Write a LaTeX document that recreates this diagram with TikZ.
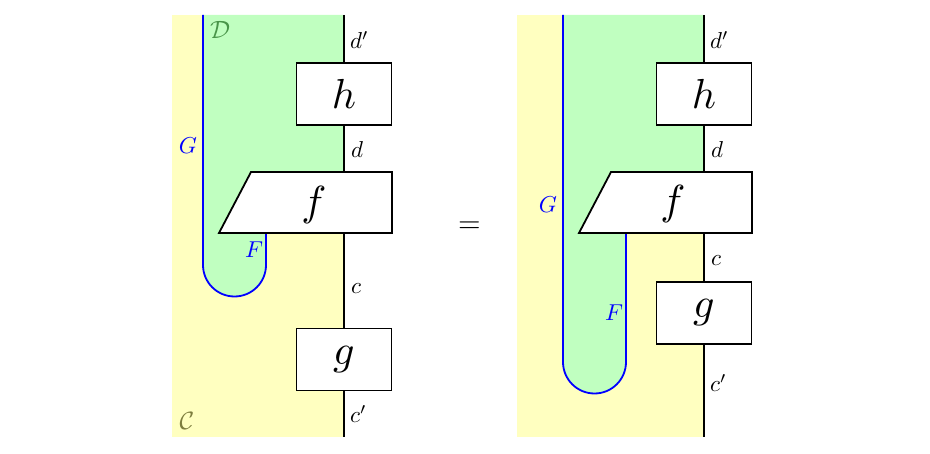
\documentclass[tikz,border=0pt]{standalone}
\usepackage{graphicx}
\definecolor{regY}{RGB}{255,255,192}
\definecolor{regG}{RGB}{192,255,192}
\definecolor{labD}{RGB}{72,148,72}
\definecolor{labC}{RGB}{125,125,62}
\newcommand\boxlab[1]{\scalebox{4.2}{$#1$}}
\newcommand\wlab[1]{\scalebox{2.3}{$#1$}}
\newcommand\clab[1]{\scalebox{2.5}{$#1$}}
\tikzset{
  wire/.style={line width=1.8pt,black},
  strand/.style={line width=1.8pt,blue},
  morph/.style={draw,line width=1.8pt,fill=white,minimum width=95pt,minimum height=62pt,inner sep=0pt},
  flab/.style={inner sep=0pt},
  lab/.style={inner sep=0pt},
  blab/.style={lab,text=blue}
}
\begin{document}
\begin{tikzpicture}[x=1pt,y=-1pt]
\useasboundingbox (0,0) rectangle (930,454);
% ---------- left diagram ----------
\fill[regY] (172,15) rectangle (344,437);
\fill[regG] (203,15) -- (344,15) -- (344,233) -- (266,233) -- (266,265)
  arc[start angle=0,end angle=180,radius=31.5] -- cycle;
\draw[strand] (203,15) -- (203,265) arc[start angle=180,end angle=0,radius=31.5] -- (266,233);
\coordinate (Ltop) at (344,15);
\coordinate (Lbot) at (344,437);
\coordinate (Lft) at (344,172);
\coordinate (Lfb) at (344,233);
\node[morph] (Lh) at (344,94) {\boxlab{h}};
\node[morph] (Lg) at (344,359.5) {\boxlab{g}};
\draw[wire] (Ltop) -- (Lh);
\draw[wire] (Lh) -- (Lft);
\draw[wire] (Lfb) -- (Lg);
\draw[wire] (Lg) -- (Lbot);
\draw[line width=1.8pt,fill=white,line join=miter] (251,172) -- (392,172) -- (392,233) -- (219,233) -- cycle;
\node[flab] (Lf) at (314,205) {\boxlab{f}};
\node[lab,anchor=west] (Ldp) at (350,40) {\wlab{d'}};
\node[lab,anchor=west] (Ld) at (351,150) {\wlab{d}};
\node[lab,anchor=west] (Lc) at (351,289) {\wlab{c}};
\node[lab,anchor=west] (Lcp) at (350,414) {\wlab{c'}};
\node[lab,text=labD] (LD) at (220,30) {\clab{\mathcal{D}}};
\node[lab,text=labC] (LC) at (187,421) {\clab{\mathcal{C}}};
\node[blab] (LG) at (188,146) {\wlab{G}};
\node[blab] (LF) at (254,250) {\wlab{F}};
% ---------- equals ----------
\node[inner sep=0pt] (eq) at (469.5,227) {\scalebox{2.9}{$=$}};
% ---------- right diagram ----------
\fill[regY] (517,15) rectangle (704,437);
\fill[regG] (563,15) -- (704,15) -- (704,233) -- (626,233) -- (626,362)
  arc[start angle=0,end angle=180,radius=31.5] -- cycle;
\draw[strand] (563,15) -- (563,362) arc[start angle=180,end angle=0,radius=31.5] -- (626,233);
\coordinate (Rtop) at (704,15);
\coordinate (Rbot) at (704,437);
\coordinate (Rft) at (704,172);
\coordinate (Rfb) at (704,233);
\node[morph] (Rh) at (704,94) {\boxlab{h}};
\node[morph] (Rg) at (704,313) {\boxlab{g}};
\draw[wire] (Rtop) -- (Rh);
\draw[wire] (Rh) -- (Rft);
\draw[wire] (Rfb) -- (Rg);
\draw[wire] (Rg) -- (Rbot);
\draw[line width=1.8pt,fill=white,line join=miter] (611,172) -- (752,172) -- (752,233) -- (579,233) -- cycle;
\node[flab] (Rf) at (673,204) {\boxlab{f}};
\node[lab,anchor=west] (Rdp) at (710,40) {\wlab{d'}};
\node[lab,anchor=west] (Rd) at (711,150) {\wlab{d}};
\node[lab,anchor=west] (Rc) at (711,261) {\wlab{c}};
\node[lab,anchor=west] (Rcp) at (710,383) {\wlab{c'}};
\node[blab] (RG) at (548,205) {\wlab{G}};
\node[blab] (RF) at (614,313) {\wlab{F}};
\end{tikzpicture}
\end{document}
